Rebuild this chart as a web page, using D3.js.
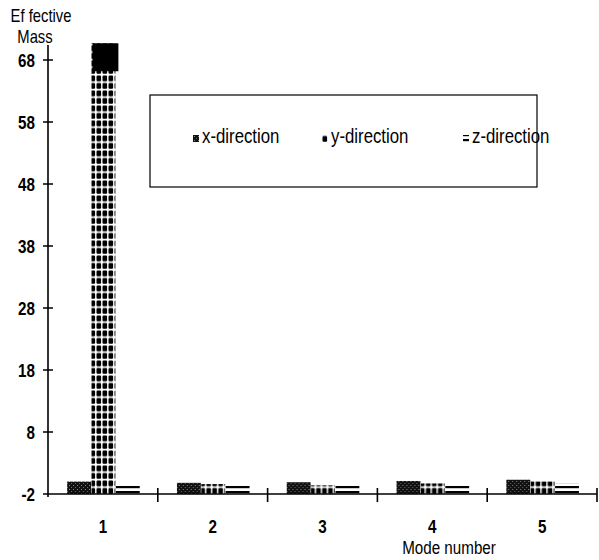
<!DOCTYPE html>
<html>
<head>
<meta charset="utf-8">
<title>Effective Mass</title>
<style>
  body { margin: 0; background: #fff; }
  svg { display: block; }
  .lbl { font-family: "Liberation Sans", Arial, sans-serif; fill: #000; }
  .tick text { font-family: "Liberation Sans", Arial, sans-serif; font-weight: bold; font-size: 19px; fill: #000; }
</style>
</head>
<body>
<div id="chart"></div>
<script src="https://d3js.org/d3.v7.min.js"></script>
<script>
// data
var modes = [1, 2, 3, 4, 5];
var series = ["x-direction", "y-direction", "z-direction"];
var xDir = [0.0, -0.2, -0.1, 0.1, 0.3];
var yDir = [70.7, -0.4, -0.6, -0.3, 0.0];
var zDir = [-0.6, -0.5, -0.6, -0.4, -0.3];
var yTicks = [-2, 8, 18, 28, 38, 48, 58, 68];

var values = { "x-direction": xDir, "y-direction": yDir, "z-direction": zDir };
var fills = { "x-direction": "url(#pX)", "y-direction": "url(#pY)", "z-direction": "url(#pZ)" };

var W = 599, H = 560;
var x0 = 48, x1 = 597, axisTop = 45, base = 494;
var squeeze = 0.8; // the original type is a narrow face
var lw = 1.6;      // axis line weight

var svg = d3.select("#chart").append("svg")
  .attr("width", W).attr("height", H);

// squeeze text horizontally to imitate the narrow font
function narrow(sel) {
  sel.each(function() {
    var t = d3.select(this);
    var tx = +t.attr("x") || 0, ty = +t.attr("y") || 0;
    t.attr("x", 0).attr("y", 0)
     .attr("transform", "translate(" + tx + "," + ty + ") scale(" + squeeze + ",1)");
  });
}

// fill patterns
var defs = svg.append("defs");
var pX = defs.append("pattern").attr("id", "pX").attr("patternUnits", "userSpaceOnUse")
  .attr("width", 4).attr("height", 4);
pX.append("rect").attr("width", 4).attr("height", 4).attr("fill", "#111");
pX.append("rect").attr("x", 1).attr("y", 1).attr("width", 1).attr("height", 1).attr("fill", "#888");
pX.append("rect").attr("x", 3).attr("y", 3).attr("width", 1).attr("height", 1).attr("fill", "#666");

var pY = defs.append("pattern").attr("id", "pY").attr("patternUnits", "userSpaceOnUse")
  .attr("width", 6).attr("height", 7.5);
pY.append("rect").attr("width", 6).attr("height", 7.5).attr("fill", "#fff");
pY.append("rect").attr("x", 0.5).attr("y", 0.5).attr("width", 4.6).attr("height", 5.8)
  .attr("rx", 1.2).attr("fill", "#000");

var pZ = defs.append("pattern").attr("id", "pZ").attr("patternUnits", "userSpaceOnUse")
  .attr("width", 6).attr("height", 5);
pZ.append("rect").attr("width", 6).attr("height", 5).attr("fill", "#fff");
pZ.append("rect").attr("y", 1).attr("width", 6).attr("height", 2.2).attr("fill", "#000");

// scales
var x = d3.scaleBand().domain(modes).range([x0, x1]).padding(0);
var xs = d3.scaleBand().domain(series)
  .range([x.bandwidth() * 0.17, x.bandwidth() * 0.84]).padding(0.02);
var y = d3.scaleLinear().domain([-2, 68]).range([base, 60]);

// bars
var groups = svg.append("g").attr("class", "bars").selectAll("g")
  .data(modes).join("g")
  .attr("transform", function(d) { return "translate(" + x(d) + ",0)"; });

groups.selectAll("rect.bar")
  .data(function(d, i) {
    return series.map(function(s) { return { key: s, value: values[s][i] }; });
  })
  .join("rect")
  .attr("class", "bar")
  .attr("x", function(d) { return xs(d.key); })
  .attr("y", function(d) { return y(d.value); })
  .attr("width", xs.bandwidth())
  .attr("height", function(d) { return y(-2) - y(d.value); })
  .attr("fill", function(d) { return fills[d.key]; });

// the solid black cap on top of the tall bar
groups.selectAll("rect.cap")
  .data(function(d, i) {
    return series.filter(function(s) { return values[s][i] > 60; })
      .map(function(s) { return { key: s, value: values[s][i] }; });
  })
  .join("rect")
  .attr("class", "cap")
  .attr("x", function(d) { return xs(d.key) + 1; })
  .attr("y", function(d) { return y(d.value); })
  .attr("width", xs.bandwidth() + 2)
  .attr("height", 28)
  .attr("fill", "#000");

// y axis labels
var yAxis = svg.append("g")
  .attr("transform", "translate(" + x0 + ",0)")
  .call(d3.axisLeft(y).tickValues(yTicks).tickSize(0).tickPadding(13)
    .tickFormat(function(d) { return String(d); }));
yAxis.select(".domain").remove();
yAxis.selectAll(".tick line").remove();
yAxis.selectAll(".tick text").attr("dy", "0.36em").call(narrow);

// x axis labels
var xAxis = svg.append("g")
  .attr("transform", "translate(0," + base + ")")
  .call(d3.axisBottom(x).tickSize(0).tickPadding(25));
xAxis.select(".domain").remove();
xAxis.selectAll(".tick line").remove();
xAxis.selectAll(".tick text").attr("dy", "0.72em").call(narrow);

// axis titles
svg.append("text").attr("class", "lbl").attr("text-anchor", "middle")
  .attr("x", 41).attr("y", 22).style("font-size", "18.5px").text("Ef fective").call(narrow);
svg.append("text").attr("class", "lbl").attr("text-anchor", "middle")
  .attr("x", 35).attr("y", 43).style("font-size", "18.5px").text("Mass").call(narrow);

svg.append("text").attr("class", "lbl")
  .attr("x", 449).attr("y", 554).attr("text-anchor", "middle")
  .style("font-size", "19px").text("Mode number").call(narrow);

// legend
var lg = svg.append("g");
lg.append("rect").attr("x", 150).attr("y", 95).attr("width", 387).attr("height", 92)
  .attr("fill", "none").attr("stroke", "#000").attr("stroke-width", 1.2);

var legendX = [193, 322, 463];
var items = lg.selectAll("g.item").data(series).join("g")
  .attr("class", "item")
  .attr("transform", function(d, i) { return "translate(" + legendX[i] + ",143)"; });
items.append("rect").attr("x", 0).attr("y", -8).attr("width", 6).attr("height", 7)
  .attr("fill", function(d) { return fills[d]; });
items.append("text").attr("class", "lbl")
  .attr("x", 9).attr("y", 0)
  .style("font-size", "21px")
  .text(function(d) { return d; })
  .call(narrow);

// axis lines and tick marks, one path drawn on top of everything
var axisPath = d3.path();
axisPath.moveTo(x0, axisTop); axisPath.lineTo(x0, base + 3);
axisPath.moveTo(x0, base); axisPath.lineTo(x1, base);
yTicks.forEach(function(t) {
  axisPath.moveTo(x0 - 5, y(t)); axisPath.lineTo(x0 + 5, y(t));
});
modes.slice(1).map(function(m) { return x(m); }).concat([x1]).forEach(function(v) {
  axisPath.moveTo(v, base - 6); axisPath.lineTo(v, base + 8);
});
svg.append("path")
  .attr("d", axisPath.toString())
  .style("fill", "none")
  .style("stroke", "#000")
  .style("stroke-width", "1.6px");
</script>
</body>
</html>
